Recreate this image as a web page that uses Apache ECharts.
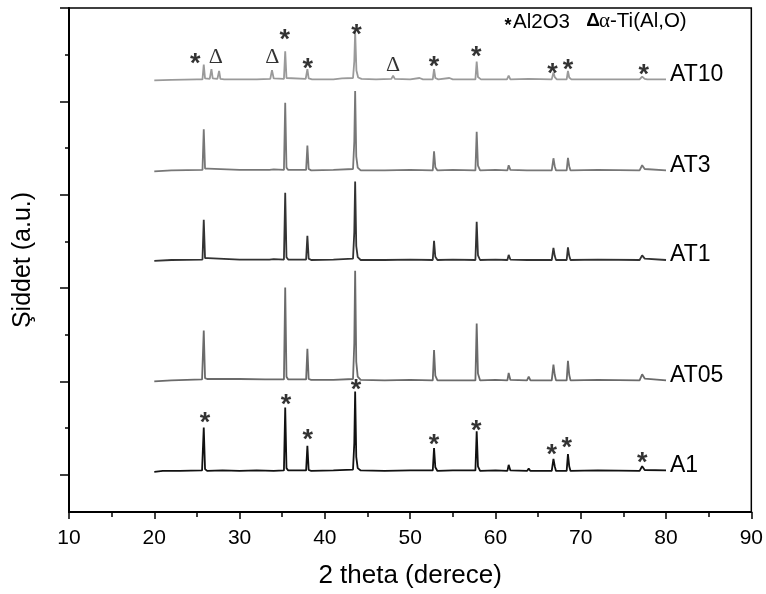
<!DOCTYPE html>
<html><head><meta charset="utf-8">
<script src="https://cdn.jsdelivr.net/npm/echarts@6/dist/echarts.min.js"></script>
<style>html,body{margin:0;padding:0;background:#fff}#c{width:766px;height:594px}</style>
</head><body><div id="c"></div>
<script>
// ---- data (2θ in degrees, intensity in a.u. above each pattern's own baseline) ----
const sampleNames = ['A1', 'AT05', 'AT1', 'AT3', 'AT10'];
const sampleOffsets = [8, 202, 460, 652, 846];

const patternA1 = [[20,-2],[21,0],[23,0],[25.6,1],[25.65,0],[25.8,93],[25.95,4],[26.2,0],
  [28,1],[30,0],[32,1],[34,0],[35.2,1],[35.35,136],[35.5,6],[35.7,1],
  [37.8,1],[37.95,54],[38.1,2],[38.4,0],
  [41,1],[43.3,3],[43.45,60],[43.55,170],[43.68,30],[43.85,6],[44.2,1],
  [47,0],[50,1],[52.65,1],[52.8,49],[52.95,8],[53.2,0],
  [55,1],[57.65,1],[57.8,85],[57.95,10],[58.2,0],
  [60,1],[61.4,0],[61.55,13],[61.75,1],[63.7,0],[63.9,5],[64.1,0],
  [66.6,0],[66.8,26],[66.95,10],[67.1,0],
  [68.35,0],[68.5,36],[68.65,10],[68.8,0],
  [72,1],[76.9,0],[77.2,10],[77.5,2],[77.7,0],[80,1]];

const patternAT05 = [[20,-2],[22,0],[25.6,2],[25.65,2],[25.8,107],[25.95,5],[26.2,3],
  [28,3],[30,3],[33,2],[35.2,2],[35.35,199],[35.5,8],[35.7,2],
  [37.8,2],[37.95,68],[38.1,3],[38.4,1],
  [41,1],[43.3,3],[43.45,80],[43.55,235],[43.68,40],[43.85,8],[44.2,1],
  [47,0],[50,1],[52.65,0],[52.8,65],[52.95,10],[53.2,0],
  [55,0],[57.65,0],[57.8,122],[57.95,15],[58.2,0],
  [60,1],[61.4,0],[61.55,16],[61.75,1],[63.7,0],[63.9,8],[64.1,0],
  [66.6,0],[66.8,34],[66.95,12],[67.1,0],
  [68.35,0],[68.5,42],[68.65,12],[68.8,0],
  [72,1],[76.9,0],[77.2,13],[77.5,4],[77.7,0],[80,0]];

const patternAT1 = [[20,-2],[22,0],[25.65,1],[25.8,86],[25.95,4],[26.1,1],[26.3,4],[26.5,1],
  [30,1],[33.5,1],[34,2],[35.2,1],[35.35,144],[35.5,6],[35.7,1],
  [37.8,1],[37.95,52],[38.1,3],[38.4,0],
  [41,1],[43.3,3],[43.45,60],[43.55,168],[43.68,30],[43.85,6],[44.2,0],
  [47,0],[50,1],[52.65,0],[52.8,41],[52.95,7],[53.2,0],
  [55,1],[57.65,0],[57.8,82],[57.95,10],[58.2,0],
  [60,1],[61.4,0],[61.55,11],[61.75,1],[63.7,0],[63.9,4],[64.1,0],
  [66.6,0],[66.8,26],[66.95,9],[67.1,0],
  [68.35,0],[68.5,27],[68.65,9],[68.8,0],
  [72,1],[76.9,0],[77.2,10],[77.5,3],[77.7,0],[80,0]];

const patternAT3 = [[20,-2],[22,0],[25.65,1],[25.8,88],[25.95,4],[26.1,1],[26.3,4],[26.5,1],
  [30,1],[33.5,1],[34,2],[35.2,1],[35.35,145],[35.5,6],[35.7,1],
  [37.8,1],[37.95,53],[38.1,3],[38.4,0],
  [41,1],[43.3,3],[43.45,62],[43.55,170],[43.68,30],[43.85,6],[44.2,0],
  [47,0],[50,1],[52.65,0],[52.8,41],[52.95,7],[53.2,0],
  [55,1],[57.65,0],[57.8,83],[57.95,10],[58.2,0],
  [60,1],[61.4,0],[61.55,11],[61.75,1],[63.7,0],[63.9,4],[64.1,0],
  [66.6,0],[66.8,26],[66.95,9],[67.1,0],
  [68.35,0],[68.5,27],[68.65,9],[68.8,0],
  [72,1],[76.9,0],[77.2,11],[77.5,3],[77.7,0],[80,0]];

const patternAT10 = [[20,-1],[22,0],[25,1],[25.65,1],[25.8,33],[25.95,3],[26.5,2],[26.7,23],[26.85,3],
  [27.4,2],[27.6,19],[27.75,2],[28.2,1],
  [30,1],[32,1],[33.6,2],[33.8,21],[34,3],[35.2,2],[35.35,61],[35.5,4],[35.7,2],
  [37.75,2],[37.95,23],[38.1,3],[38.5,1],
  [41,1],[42,3],[43.3,4],[43.45,40],[43.55,103],[43.7,20],[43.9,5],[44.3,2],
  [46,1],[47.8,2],[48,9],[48.2,2],[50,1],[51.1,4],[51.5,1],
  [52.65,1],[52.8,23],[52.95,4],[53.3,1],[54.6,4],[55,1],
  [57.65,1],[57.8,39],[57.95,6],[58.3,1],
  [60,1],[61.35,1],[61.55,9],[61.75,1],[63.9,2],
  [66.6,1],[66.8,16],[66.95,6],[67.2,1],
  [68.35,1],[68.5,19],[68.65,5],[68.9,1],
  [72,1],[76.9,1],[77.2,7],[77.5,2],[77.8,1],[80,1]];

const patterns = [patternA1, patternAT05, patternAT1, patternAT3, patternAT10];
const sampleColors = ['#111111', '#6b6b6b', '#333333', '#777777', '#9a9a9a'];

// peak markers (2θ, a.u. on the stacked scale)
const starsA1 = [[25.95,122.8],[35.45,161.8],[38.0,85],[43.65,193.2],[52.8,74.3],[57.75,106.3],[66.6,53],[68.35,69.4],[77.2,36.8]];
const starsAT10 = [[24.8,892.7],[35.3,942.4],[38.0,882],[43.7,954.6],[52.8,885.4],[57.75,906.8],[66.7,871.3],[68.5,878.4],[77.4,868.8]];
const deltasAT10 = [[27.2,894.8],[33.85,894.8],[48.0,878.4]];

const xMin = 10, xMax = 90, xStep = 10;
const yMin = -80, yMax = 1000;
const yMajorTicks = [0, 200, 400, 600, 800, 1000];
const yMinorTicks = [100, 300, 500, 700, 900];

const FONT = "'Liberation Sans', Arial, sans-serif";

const chart = echarts.init(document.getElementById('c'), null, {renderer: 'canvas'});

const lineSeries = sampleNames.map((name, i) => ({
  name: name,
  type: 'line',
  data: patterns[i].map(p => [p[0], p[1] + sampleOffsets[i]]),
  symbol: 'none',
  silent: true,
  lineStyle: {color: sampleColors[i], width: 1.8},
  itemStyle: {color: sampleColors[i]},
  endLabel: {
    show: true, formatter: '{a}', distance: 4, offset: [0, -5],
    fontFamily: FONT, fontSize: 23, color: '#000'
  },
  z: 3
}));

const starSeries = {
  type: 'scatter', silent: true, symbolSize: 1,
  itemStyle: {color: 'rgba(0,0,0,0)'},
  data: starsA1.concat(starsAT10),
  label: {show: true, position: 'inside', formatter: '*', offset: [0, 6],
    fontFamily: FONT, fontWeight: 'bold', fontSize: 27, color: '#000'},
  z: 5
};
const deltaSeries = {
  type: 'scatter', silent: true, symbolSize: 1,
  itemStyle: {color: 'rgba(0,0,0,0)'},
  data: deltasAT10,
  label: {show: true, position: 'inside', formatter: '\u0394',
    fontFamily: "'Liberation Serif', 'Times New Roman', serif", fontSize: 22, color: '#000'},
  z: 5
};

chart.setOption({
  animation: false,
  backgroundColor: '#fff',
  grid: {left: 69, right: 12, top: 8, bottom: 80, show: true, borderColor: '#000', borderWidth: 1.5, backgroundColor: 'transparent'},
  xAxis: {
    type: 'value', min: xMin, max: xMax, interval: xStep,
    name: '2 theta (derece)', nameLocation: 'middle', nameGap: 51,
    nameTextStyle: {fontFamily: FONT, fontSize: 26, color: '#000'},
    axisLine: {show: true, onZero: false, lineStyle: {color: '#000', width: 2}},
    axisTick: {show: true, inside: false, length: 7, lineStyle: {color: '#000', width: 1.5}},
    minorTick: {show: true, splitNumber: 2, length: 5, lineStyle: {color: '#000', width: 1.5}},
    axisLabel: {fontFamily: FONT, fontSize: 21, color: '#000', margin: 16},
    splitLine: {show: false}
  },
  yAxis: [{
    type: 'value', min: yMin, max: yMax,
    name: 'Şiddet (a.u.)', nameLocation: 'middle', nameGap: 33, nameRotate: 90,
    nameTextStyle: {fontFamily: FONT, fontSize: 25, color: '#000'},
    axisLine: {show: true, onZero: false, lineStyle: {color: '#000', width: 2}},
    axisTick: {show: true, inside: false, length: 9, customValues: yMajorTicks, lineStyle: {color: '#000', width: 1.5}},
    axisLabel: {show: false},
    splitLine: {show: false}
  }, {
    type: 'value', min: yMin, max: yMax, position: 'left', offset: 0,
    axisLine: {show: false, onZero: false},
    axisTick: {show: true, inside: false, length: 4, customValues: yMinorTicks, lineStyle: {color: '#000', width: 1.5}},
    axisLabel: {show: false},
    splitLine: {show: false}
  }],
  series: lineSeries.concat([starSeries, deltaSeries]),
  graphic: [
    {type: 'text', x: 508, y: 26, style: {text: '*', font: "bold 18px " + FONT, fill: '#000', textAlign: 'center', textVerticalAlign: 'middle'}},
    {type: 'text', x: 513, y: 22, style: {text: 'Al2O3', font: "20.5px " + FONT, fill: '#000', textAlign: 'left', textVerticalAlign: 'middle'}},
    {type: 'text', x: 593, y: 21, style: {text: '\u0394', font: "bold 19px " + FONT, fill: '#000', textAlign: 'center', textVerticalAlign: 'middle'}},
    {type: 'text', x: 599, y: 21, style: {text: '{g|\u03b1}-Ti(Al,O)', font: "20.5px " + FONT, fill: '#000', textAlign: 'left', textVerticalAlign: 'middle',
      rich: {g: {fontFamily: "'Liberation Serif', serif", fontSize: 21, fill: '#000', color: '#000'}}}}
  ]
});
</script></body></html>
